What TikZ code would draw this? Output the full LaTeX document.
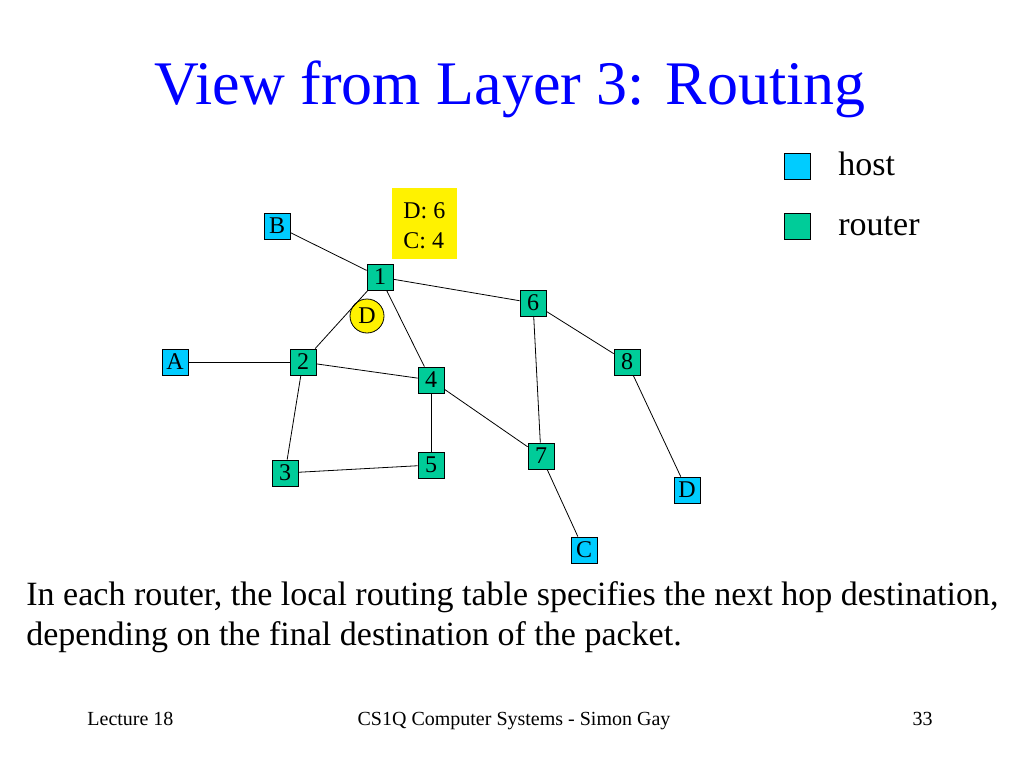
\documentclass[tikz,border=0pt]{standalone}
\usepackage{fontspec}
\setmainfont{Liberation Serif}
\usepackage{tikz}
\definecolor{hostblue}{RGB}{0,204,255}
\definecolor{routergreen}{RGB}{0,204,153}
\definecolor{titleblue}{RGB}{0,0,255}
\newcommand{\fsz}[1]{\fontsize{#1}{#1}\selectfont}

\begin{document}
\begin{tikzpicture}[x=1pt, y=-1pt, line width=0.8pt,
    box/.style={draw, minimum size=26pt, inner sep=0pt, font=\fsz{24}},
    host/.style={box, fill=hostblue},
    router/.style={box, fill=routergreen}]
      \useasboundingbox (0, 0) rectangle (1024, 768);
      \node[titleblue, font=\fsz{62}, anchor=base] (title) at (510, 104) {View from Layer 3: Routing};
      % legend
      \node[draw, fill=hostblue, minimum size=26pt, inner sep=0pt] (keyhost) at (797, 166) {};
      \node[draw, fill=routergreen, minimum size=26pt, inner sep=0pt] (keyrouter) at (797, 226) {};
      \node[font=\fsz{34}, anchor=base west, inner sep=0pt] (hosttext) at (838, 175) {host};
      \node[font=\fsz{34}, anchor=base west, inner sep=0pt] (routertext) at (838, 235) {router};
      % routing table of router 1
      \node[fill=yellow, minimum width=65pt, minimum height=71pt, inner sep=0pt] (table) at (424.5, 223.5) {};
      \node[font=\fsz{24}, anchor=base west, inner sep=0pt] (entryD) at (403, 218) {D: 6};
      \node[font=\fsz{24}, anchor=base west, inner sep=0pt] (entryC) at (403, 248) {C: 4};
      % network
      \node[host] (B) at (277, 226) {B};
      \node[host] (A) at (175, 362) {A};
      \node[host] (D) at (687, 490) {D};
      \node[host] (C) at (584, 550) {C};
      \node[router] (r1) at (380, 277) {1};
      \node[router] (r2) at (303, 362) {2};
      \node[router] (r3) at (285, 473) {3};
      \node[router] (r4) at (431, 380) {4};
      \node[router] (r5) at (431, 465) {5};
      \node[router] (r6) at (533, 303) {6};
      \node[router] (r7) at (541, 456) {7};
      \node[router] (r8) at (627, 362) {8};
      \node[draw, circle, fill=yellow, minimum size=34pt, inner sep=0pt, font=\fsz{24}] (packet) at (367, 316) {D};
      \draw (B) -- (r1);
      \draw (r1) -- (r2);
      \draw (r1) -- (r4);
      \draw (r1) -- (r6);
      \draw (A) -- (r2);
      \draw (r2) -- (r4);
      \draw (r2) -- (r3);
      \draw (r3) -- (r5);
      \draw (r4) -- (r5);
      \draw (r4) -- (r7);
      \draw (r6) -- (r7);
      \draw (r6) -- (r8);
      \draw (r8) -- (D);
      \draw (r7) -- (C);
      % text
      \node[font=\fsz{34}, anchor=base west, inner sep=0pt] (line1) at (26, 605) {In each router, the local routing table specifies the next hop destination,};
      \node[font=\fsz{34}, anchor=base west, inner sep=0pt] (line2) at (26, 645) {depending on the final destination of the packet.};
      \node[font=\fsz{20}, anchor=base west, inner sep=0pt] (lecture) at (87, 725) {Lecture 18};
      \node[font=\fsz{20}, anchor=base, inner sep=0pt] (course) at (514, 725) {CS1Q Computer Systems - Simon Gay};
      \node[font=\fsz{20}, anchor=base east, inner sep=0pt] (page) at (933, 725) {33};
    \end{tikzpicture}
\end{document}
